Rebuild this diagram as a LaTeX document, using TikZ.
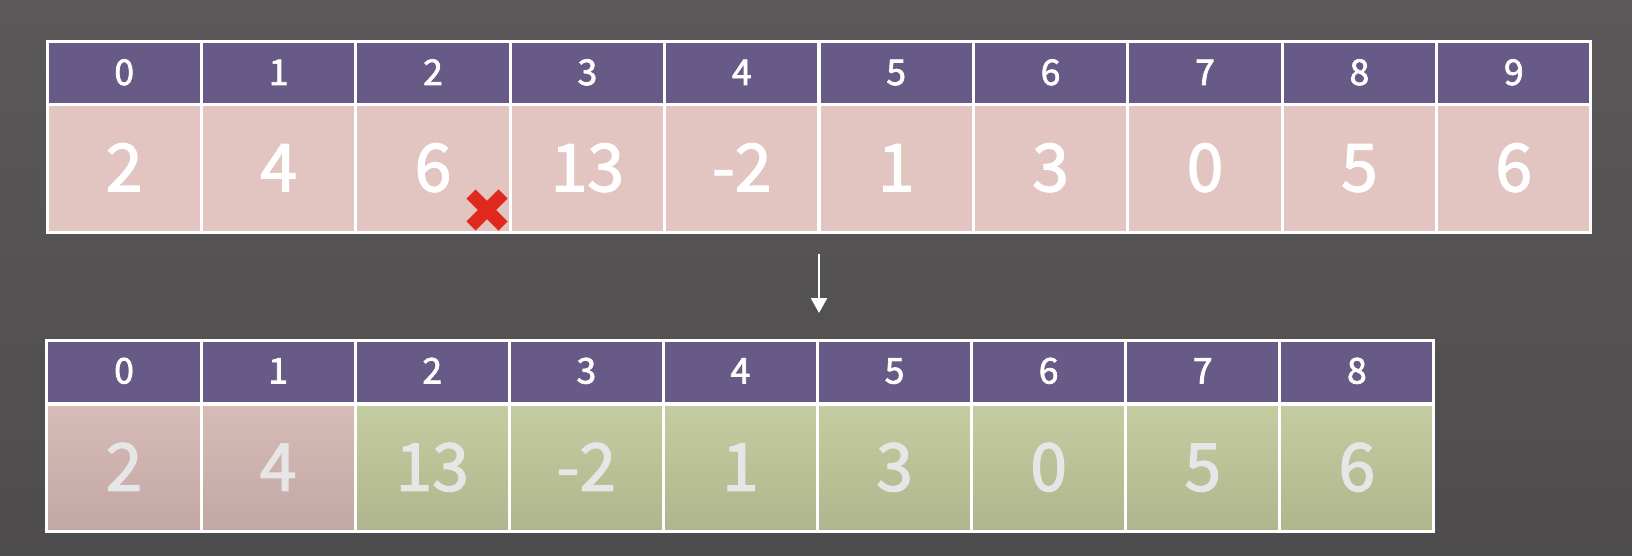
\documentclass[tikz,border=0pt]{standalone}
\usepackage{fontspec}
\newfontface\hdrfont{Noto Sans CJK SC}[FakeBold=2]
\newfontface\valfont{Noto Sans CJK SC}[FakeBold=2]
\usetikzlibrary{arrows.meta}
\definecolor{bgtop}{HTML}{5A5859}
\definecolor{bgbot}{HTML}{4E4C4D}
\definecolor{hdr}{HTML}{675A87}
\definecolor{pinkflat}{HTML}{E2C5C1}
\definecolor{pinktop}{HTML}{D6BBB7}
\definecolor{pinkbot}{HTML}{C3A7A4}
\definecolor{greentop}{HTML}{C4CCA1}
\definecolor{greenbot}{HTML}{AFB68D}
\definecolor{dimtext}{HTML}{E6E6E6}
\definecolor{crossred}{HTML}{E0281E}
\tikzset{
  cell/.style={draw=white, line width=3pt, inner sep=0pt, outer sep=0pt,
    minimum width=154.2pt, anchor=center},
  hdrcell/.style={cell, fill=hdr, minimum height=63pt, text=white,
    font=\hdrfont\fontsize{35.5}{36}\selectfont, text height=23pt, text depth=0pt},
  valcell/.style={cell, minimum height=127pt, text=white,
    font=\valfont\fontsize{66}{66}\selectfont, text height=45.5pt, text depth=0pt},
  topval/.style={valcell, fill=pinkflat},
  oldval/.style={valcell, top color=pinktop, bottom color=pinkbot, text=dimtext},
  newval/.style={valcell, top color=greentop, bottom color=greenbot, text=dimtext},
  flow/.style={draw=white, line width=2.5pt, -{Triangle[width=16pt,length=15pt]}},
  cross/.style={draw=crossred, line width=13pt}
}
\begin{document}
\begin{tikzpicture}[x=1pt,y=-1pt]
\shade[top color=bgtop, bottom color=bgbot] (0,0) rectangle (1632,556);
\useasboundingbox (0,0) rectangle (1632,556);
% top array
\foreach \v [count=\i from 0] in {2,4,6,13,-2,1,3,0,5,6} {
  \node[hdrcell] (h\i) at ({47+154.4*(\i+0.5)},73.5) {\i};
  \node[topval] (v\i) at ({47+154.4*(\i+0.5)},168.5) {\v};
}
% bottom array
\foreach \v [count=\i from 0] in {2,4,13,-2,1,3,0,5,6} {
  \node[hdrcell] (bh\i) at ({47+154.1*(\i+0.5)},372) {\i};
}
\foreach \v [count=\i from 0] in {2,4} {
  \node[oldval] (bv\i) at ({47+154.1*(\i+0.5)},468) {\v};
}
\foreach \v [count=\j from 2] in {13,-2,1,3,0,5,6} {
  \node[newval] (bv\j) at ({47+154.1*(\j+0.5)},468) {\v};
}
% removed-element marker
\coordinate (xc) at (487,210);
\draw[cross] ([shift={(-16,-16)}]xc) -- ([shift={(16,16)}]xc);
\draw[cross] ([shift={(-16,16)}]xc) -- ([shift={(16,-16)}]xc);
% arrow
\coordinate (arrs) at (819,254);
\coordinate (arre) at (819,313);
\draw[flow] (arrs) -- (arre);
\end{tikzpicture}
\end{document}
